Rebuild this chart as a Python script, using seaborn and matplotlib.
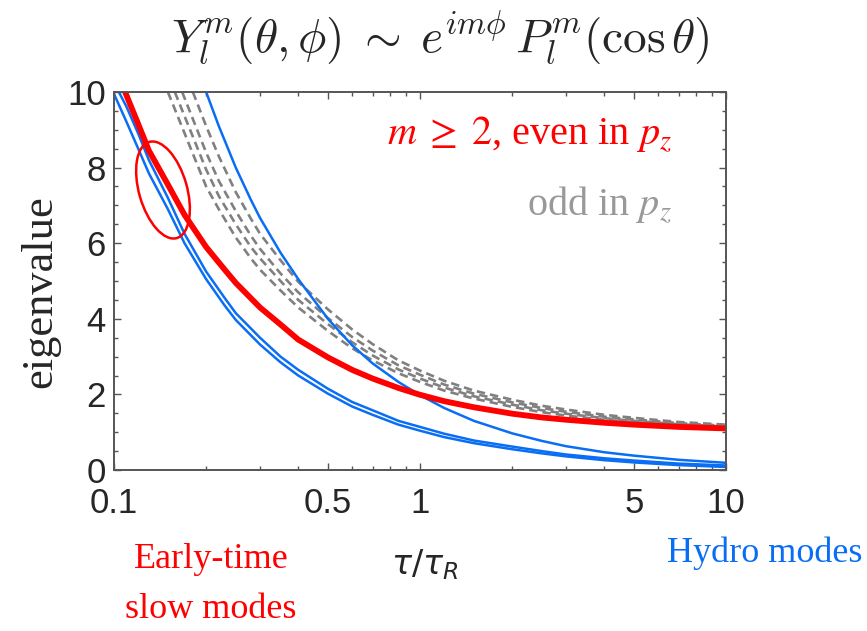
import numpy as np
import pandas as pd
import matplotlib
matplotlib.use("Agg")
import matplotlib.pyplot as plt
import seaborn as sns
from matplotlib.patches import Ellipse
from matplotlib.transforms import IdentityTransform
from matplotlib.ticker import FixedLocator, NullFormatter, MultipleLocator, LogLocator

# ---- data ----
tau = [0.1, 0.11, 0.12, 0.13, 0.15, 0.17, 0.2, 0.23, 0.25, 0.3, 0.35, 0.4, 0.5, 0.6, 0.7,
       0.85, 1, 1.2, 1.5, 2, 2.5, 3, 4, 5, 7, 10]
red_even = [10.7, 9.9, 9.15, 8.45, 7.55, 6.75, 5.9, 5.3, 4.95, 4.3, 3.85, 3.45, 2.98, 2.65, 2.42,
            2.17, 1.99, 1.82, 1.66, 1.49, 1.39, 1.33, 1.25, 1.2, 1.14, 1.1]
blue_a = [10.25, 9.6, 8.9, 8.2, 7.2, 6.25, 5.25, 4.55, 4.15, 3.5, 3.0, 2.65, 2.15, 1.8, 1.58,
          1.3, 1.14, 0.96, 0.78, 0.62, 0.5, 0.41, 0.31, 0.25, 0.17, 0.12]
blue_b = [9.95, 9.2, 8.5, 7.85, 6.9, 6.0, 5.05, 4.35, 3.97, 3.32, 2.85, 2.5, 2.02, 1.68, 1.46,
          1.2, 1.04, 0.87, 0.71, 0.55, 0.44, 0.36, 0.26, 0.2, 0.13, 0.08]

tau_c = [0.2, 0.22, 0.25, 0.28, 0.3, 0.35, 0.4, 0.5, 0.6, 0.7, 0.85, 1, 1.2, 1.5, 2, 2.5, 3, 4, 5, 7, 10]
blue_c = [10.0, 9.1, 8.0, 7.15, 6.67, 5.75, 5.05, 4.0, 3.3, 2.82, 2.33, 1.98, 1.64, 1.3, 0.97,
          0.77, 0.63, 0.47, 0.38, 0.27, 0.19]

tau_odd = [0.2, 0.22, 0.25, 0.28, 0.3, 0.35, 0.4, 0.5, 0.6, 0.7, 0.85, 1, 1.2, 1.5, 2, 2.5, 3, 4, 5, 7, 10]
odd_start_tau = [0.15, 0.158, 0.167, 0.181]
odd1 = [7.5, 6.9, 6.15, 5.6, 5.3, 4.75, 4.3, 3.68, 3.22, 2.9, 2.56, 2.33, 2.1, 1.89, 1.67,
        1.53, 1.44, 1.33, 1.27, 1.19, 1.13]
odd2 = [7.95, 7.25, 6.5, 5.9, 5.6, 5.0, 4.5, 3.86, 3.38, 3.03, 2.66, 2.42, 2.18, 1.95, 1.73,
        1.58, 1.49, 1.37, 1.3, 1.21, 1.15]
odd3 = [8.4, 7.65, 6.85, 6.2, 5.85, 5.2, 4.7, 4.02, 3.52, 3.16, 2.77, 2.52, 2.26, 2.02, 1.79,
        1.64, 1.54, 1.41, 1.34, 1.24, 1.17]
odd4 = [9.1, 8.3, 7.35, 6.65, 6.25, 5.55, 4.98, 4.25, 3.72, 3.33, 2.9, 2.63, 2.36, 2.1, 1.86,
        1.7, 1.6, 1.46, 1.38, 1.27, 1.2]

xtick_vals = [0.1, 0.5, 1, 5, 10]
xtick_labels = ["0.1", "0.5", "1", "5", "10"]
ytick_vals = [0, 2, 4, 6, 8, 10]

RED = "#ff0000"
BLUE = "#0a6ef5"
GRAY = "#808080"

sns.set_style("ticks")
plt.rcParams["font.family"] = ["Liberation Sans", "DejaVu Sans"]

fig = plt.figure(figsize=(8.67, 6.31), dpi=100)
ax = fig.add_axes([114 / 867, 1 - 470 / 631, 612 / 867, 378 / 631])

# odd in p_z (gray dashed)
for t0, ys in zip(odd_start_tau, [odd1, odd2, odd3, odd4]):
    xs = [t0] + tau_odd
    yy = [10.0] + ys
    sns.lineplot(x=xs, y=yy, ax=ax, color=GRAY, lw=1.9, sort=False, estimator=None,
                 linestyle=(0, (3.2, 1.9)))

# blue modes
sns.lineplot(x=tau, y=blue_a, ax=ax, color=BLUE, lw=1.8, sort=False, estimator=None)
sns.lineplot(x=tau, y=blue_b, ax=ax, color=BLUE, lw=1.8, sort=False, estimator=None)
sns.lineplot(x=tau_c, y=blue_c, ax=ax, color=BLUE, lw=1.8, sort=False, estimator=None)

# red even mode
sns.lineplot(x=tau, y=red_even, ax=ax, color=RED, lw=4.2, sort=False, estimator=None)

ax.set_xscale("log")
ax.set_xlim(0.1, 10)
ax.set_ylim(0, 10)
ax.set_xlabel("")
ax.set_ylabel("")

ax.xaxis.set_major_locator(FixedLocator(xtick_vals))
ax.set_xticklabels(xtick_labels)
ax.xaxis.set_minor_locator(LogLocator(base=10, subs=np.arange(2, 10)))
ax.xaxis.set_minor_formatter(NullFormatter())
ax.yaxis.set_major_locator(FixedLocator(ytick_vals))
ax.yaxis.set_minor_locator(MultipleLocator(0.5))

spine_col = "#555555"
for s in ax.spines.values():
    s.set_visible(True)
    s.set_color(spine_col)
    s.set_linewidth(1.4)
ax.tick_params(which="both", direction="in", top=True, right=True, color=spine_col, width=1.0)
ax.tick_params(which="major", length=5, labelsize=25)
ax.tick_params(which="minor", length=3)
ax.tick_params(axis="y", which="major", pad=6)
ax.tick_params(axis="x", which="major", pad=12)

# ellipse marking the early-time crossing (display pixels)
ell = Ellipse((163, 631 - 190), width=48, height=100, angle=16, fill=False,
              edgecolor=RED, lw=1.8, transform=IdentityTransform(), clip_on=False)
fig.add_artist(ell)

serif = ["Liberation Serif", "DejaVu Serif"]
fig.text(440 / 867, 1 - 38 / 631,
         r"$Y_l^m(\theta,\phi)\; \sim\; e^{im\phi}\, P_l^m(\cos\theta)$",
         ha="center", va="center", fontsize=34, math_fontfamily="cm")
fig.text(672 / 867, 1 - 135 / 631, r"$m\;\geq\;2$, even in $p_z$", ha="right", va="center",
         fontsize=29, color=RED, family=serif, math_fontfamily="stix")
fig.text(672 / 867, 1 - 205 / 631, r"odd in $p_z$", ha="right", va="center",
         fontsize=29, color="#999999", family=serif, math_fontfamily="stix")
fig.text(40 / 867, 1 - 292 / 631, "eigenvalue", rotation=90, ha="center", va="center",
         fontsize=32, family=serif)
fig.text(425 / 867, 1 - 565 / 631, r"$\tau/\tau_R$", ha="center", va="center",
         fontsize=24, math_fontfamily="dejavusans")
fig.text(211 / 867, 1 - 560 / 631, "Early-time", ha="center", va="center",
         fontsize=26, color=RED, family=serif)
fig.text(211 / 867, 1 - 610 / 631, "slow modes", ha="center", va="center",
         fontsize=26, color=RED, family=serif)
fig.text(862 / 867, 1 - 553 / 631, "Hydro modes", ha="right", va="center",
         fontsize=26, color=BLUE, family=serif)

fig.savefig("out.png", dpi=100)
